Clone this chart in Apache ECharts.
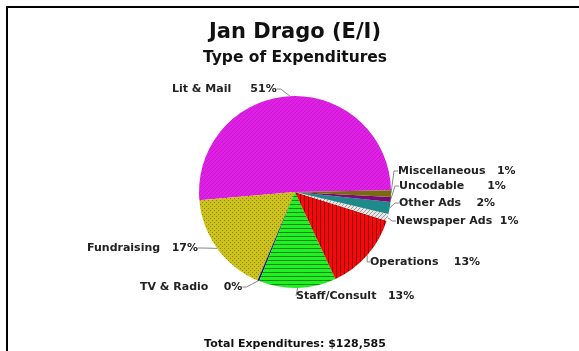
<!DOCTYPE html>
<html>
<head>
<meta charset="utf-8">
<title>Jan Drago (E/I)</title>
<script src="https://cdn.jsdelivr.net/npm/echarts@6/dist/echarts.min.js"></script>
<style>
  html, body { margin: 0; padding: 0; background: #fff; }
  #main { width: 579px; height: 351px; }
</style>
</head>
<body>
<div id="main"></div>
<script>
// slices, counterclockwise from 3 o'clock
var categories = ['Lit & Mail', 'Fundraising', 'TV & Radio', 'Staff/Consult', 'Operations',
                  'Newspaper Ads', 'Other Ads', 'Uncodable', 'Miscellaneous'];
var amounts = [65685, 22200, 400, 16700, 17000, 1500, 2600, 1100, 1400];

var labelFont = 'DejaVu Sans';

// where each slice label sits (left edge, middle) - same order as categories
var labelSpots = [[172, 89], [87, 248], [140, 287], [296, 296], [370, 262],
                  [396, 221], [399, 203], [399, 186], [398, 171]];
// spaces between name and percent, per label
var gaps = [5, 3, 4, 3, 4, 2, 4, 6, 3];

// small repeating fill patterns like the old chart hatching
function pattern(bg, ink, kind) {
  var c = document.createElement('canvas');
  c.width = 4; c.height = 4;
  var g = c.getContext('2d');
  g.fillStyle = bg;
  g.fillRect(0, 0, 4, 4);
  g.fillStyle = ink;
  if (kind === 'h') { g.fillRect(0, 0, 4, 1); }
  else if (kind === 'v') { g.fillRect(0, 0, 1, 4); }
  else if (kind === 'dot') { g.fillRect(0, 0, 1, 1); g.fillRect(2, 2, 1, 1); }
  else if (kind === 'd') { g.fillRect(0, 3, 1, 1); g.fillRect(1, 2, 1, 1); g.fillRect(2, 1, 1, 1); g.fillRect(3, 0, 1, 1); }
  return { image: c, repeat: 'repeat' };
}

var fills = [
  pattern('#e020e6', '#c818cc', 'd'),
  pattern('#ccc21a', '#8c8410', 'dot'),
  '#10107a',
  pattern('#22f022', '#0a8a0a', 'h'),
  pattern('#f40a0a', '#900000', 'v'),
  pattern('#e8e8e8', '#999999', 'd'),
  '#1f8a8a',
  '#7a0a7a',
  '#7a6a10'
];

var total = amounts.reduce(function (a, b) { return a + b; }, 0);

var pieData = categories.map(function (n, i) {
  return { name: n, value: amounts[i], itemStyle: { color: fills[i] } };
});

var chart = echarts.init(document.getElementById('main'));
chart.setOption({
  animation: false,
  backgroundColor: '#fff',
  title: [
    { text: 'Jan Drago (E/I)', left: 290, textAlign: 'center', top: 17,
      textStyle: { fontFamily: labelFont, fontWeight: 'bold', fontSize: 21, color: '#111' } },
    { text: 'Type of Expenditures', left: 290, textAlign: 'center', top: 45,
      textStyle: { fontFamily: labelFont, fontWeight: 'bold', fontSize: 15.5, color: '#111' } },
    { text: 'Total Expenditures: $' + total.toLocaleString('en-US'), left: 290, textAlign: 'center', top: 334,
      textStyle: { fontFamily: labelFont, fontWeight: 'bold', fontSize: 11, color: '#111' } }
  ],
  graphic: [
    { type: 'line', shape: { x1: 6, y1: 7, x2: 579, y2: 7 }, style: { stroke: '#000', lineWidth: 2 } },
    { type: 'line', shape: { x1: 7, y1: 6, x2: 7, y2: 351 }, style: { stroke: '#000', lineWidth: 2 } }
  ],
  series: [{
    type: 'pie',
    center: [295, 192],
    radius: 96,
    startAngle: 1,
    clockwise: false,
    data: pieData,
    itemStyle: { borderWidth: 0 },
    label: {
      show: true,
      fontFamily: labelFont,
      fontWeight: 'bold',
      fontSize: 11,
      color: '#222',
      formatter: function (p) {
        return p.name + new Array(gaps[p.dataIndex] + 1).join(' ') + Math.round(p.percent) + '%';
      }
    },
    labelLine: { show: true, length: 6, length2: 4, lineStyle: { color: '#888', width: 1 } },
    labelLayout: function (p) {
      var s = labelSpots[p.dataIndex];
      return { x: s[0], y: s[1], align: 'left', verticalAlign: 'middle' };
    }
  }]
});
</script>
</body>
</html>
